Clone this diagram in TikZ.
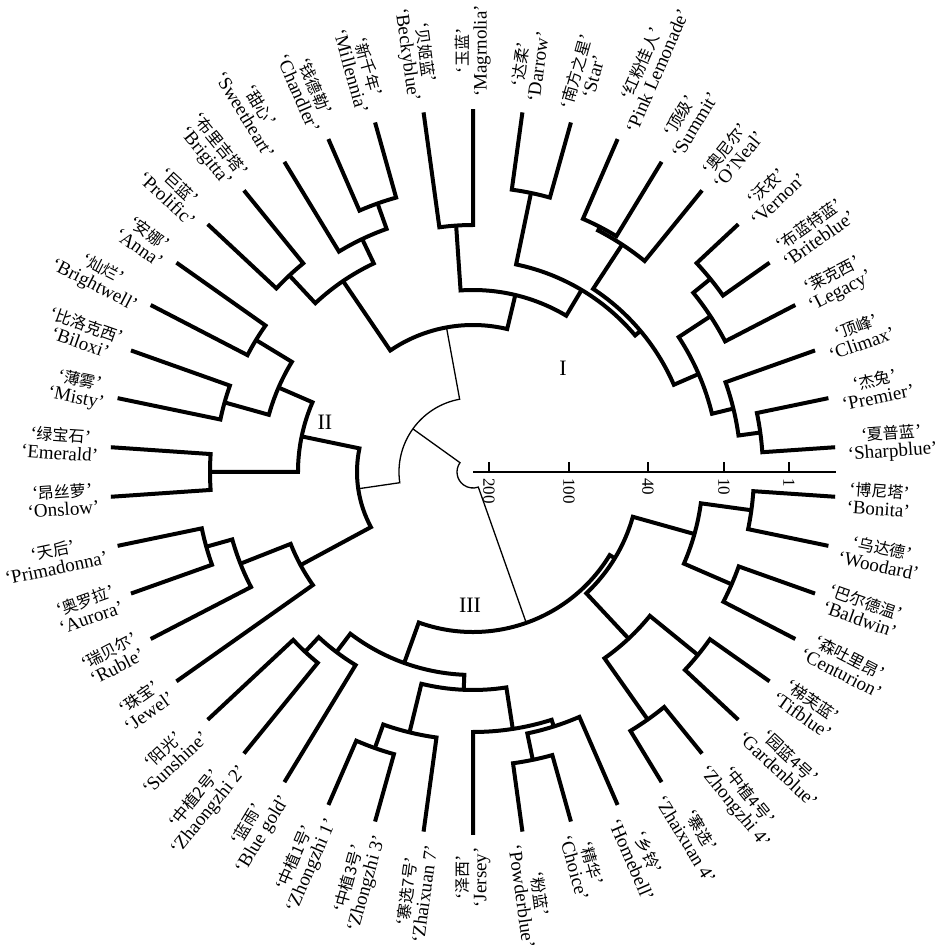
\documentclass[tikz,border=0pt]{standalone}
\usepackage{fontspec}
\setmainfont{Liberation Serif}
\newfontfamily\cjk{Noto Sans CJK SC}[Scale=0.84]
\usepackage{tikz}

\tikzset{
  branch/.style={line width=4pt},
  link/.style={line width=1.3pt},
  leaflbl/.style={font=\fontsize{19}{18}\selectfont,align=center,inner sep=0pt},
  scalelbl/.style={font=\fontsize{17}{17}\selectfont,inner sep=0pt,rotate=-90,anchor=west},
  grouplbl/.style={font=\fontsize{22}{22}\selectfont,inner sep=0pt},
  tickline/.style={line width=1.5pt}
}

% 两个子类在半径 #4 处合并
\newcommand\joinpair[5]{%
  \pgfmathsetmacro\angA{\csname ang#2\endcsname}%
  \pgfmathsetmacro\angB{\csname ang#3\endcsname}%
  \pgfmathsetmacro\angM{(\angA+\angB)/2}%
  \expandafter\xdef\csname ang#1\endcsname{\angM}%
  \coordinate (#1) at (\angM:#4);
  \draw[#5] (#2) -- (\angA:#4) arc[start angle=\angA,end angle=\angB,radius=#4pt] -- (#3);
}

\begin{document}
\begin{tikzpicture}[x=1pt,y=1pt]
\useasboundingbox (-473,-478) rectangle (476,472);
% 品种聚类图
\foreach \zh/\en [count=\i] in {夏普蓝/Sharpblue,杰兔/Premier,顶峰/Climax,莱克西/Legacy,
  布蓝特蓝/Briteblue,沃农/Vernon,奥尼尔/O’Neal,顶级/Summit,红粉佳人/Pink Lemonade,
  南方之星/Star,达柔/Darrow,玉蓝/Magrnolia,贝姬蓝/Beckyblue,新千年/Millennia,
  钱德勒/Chandler,甜心/Sweetheart,布里吉塔/Brigitta,巨蓝/Prolific,安娜/Anna,
  灿烂/Brightwell,比洛克西/Biloxi,薄雾/Misty,绿宝石/Emerald,昂丝萝/Onslow,
  天后/Primadonna,奥罗拉/Aurora,瑞贝尔/Ruble,珠宝/Jewel,阳光/Sunshine,
  中植2号/Zhaongzhi 2,蓝雨/Blue gold,中植1号/Zhongzhi 1,中植3号/Zhongzhi 3,
  寨选7号/Zhaixuan 7,泽西/Jersey,粉蓝/Powderblue,精华/Choice,乡铃/Homebell,
  寨选/Zhaixuan 4,中植4号/Zhongzhi 4,园蓝4号/Gardenblue,梯芙蓝/Tifblue,
  森吐里昂/Centurion,巴尔德温/Baldwin,乌达德/Woodard,博尼塔/Bonita}{
  \pgfmathsetmacro\a{180/46+(\i-1)*360/46}
  \expandafter\xdef\csname angc\i\endcsname{\a}
  \coordinate (c\i) at (\a:363);
  \pgfmathsetmacro\onleft{(\a>90.5)*(\a<270.5)}
  \ifdim\onleft pt>0.5pt
    \pgfmathsetmacro\rot{\a-180}
    \node[leaflbl,rotate=\rot,anchor=east] (lbl\i) at (\a:375) {‘{\cjk \zh}’\\‘\en’};
  \else
    \node[leaflbl,rotate=\a,anchor=west] (lbl\i) at (\a:375) {‘{\cjk \zh}’\\‘\en’};
  \fi
}

% I
\joinpair{m1-2}{c1}{c2}{290}{branch}
\joinpair{m1-3}{m1-2}{c3}{268}{branch}
\joinpair{m5-6}{c5}{c6}{306}{branch}
\joinpair{m4-6}{c4}{m5-6}{284}{branch}
\joinpair{m1-6}{m1-3}{m4-6}{246}{branch}
\joinpair{m8-9}{c8}{c9}{276}{branch}
\joinpair{m7-9}{c7}{m8-9}{272}{branch}
\joinpair{m1-9}{m1-6}{m7-9}{219}{branch}
\joinpair{m10-11}{c10}{c11}{285}{branch}
\joinpair{m1-11}{m1-9}{m10-11}{212}{branch}
\joinpair{m12-13}{c12}{c13}{247}{branch}
\joinpair{m1-13}{m1-11}{m12-13}{182}{branch}
\joinpair{m14-15}{c14}{c15}{285}{branch}
\joinpair{m14-16}{m14-15}{c16}{258}{branch}
\joinpair{m17-18}{c17}{c18}{269}{branch}
\joinpair{m14-18}{m14-16}{m17-18}{231}{branch}
\joinpair{m1-18}{m1-13}{m14-18}{147}{branch}
% II
\joinpair{m19-20}{c19}{c20}{254}{branch}
\joinpair{m21-22}{c21}{c22}{258}{branch}
\joinpair{m19-22}{m19-20}{m21-22}{212}{branch}
\joinpair{m23-24}{c23}{c24}{263}{branch}
\joinpair{m19-24}{m19-22}{m23-24}{175}{branch}
\joinpair{m25-26}{c25}{c26}{277}{branch}
\joinpair{m25-27}{m25-26}{c27}{250}{branch}
\joinpair{m25-28}{m25-27}{c28}{196}{branch}
\joinpair{m19-28}{m19-24}{m25-28}{116}{branch}
% III
\joinpair{m29-30}{c29}{c30}{246}{branch}
\joinpair{m29-31}{m29-30}{c31}{226}{branch}
\joinpair{m32-33}{c32}{c33}{293}{branch}
\joinpair{m32-34}{m32-33}{c34}{268}{branch}
\joinpair{m36-37}{c36}{c37}{294}{branch}
\joinpair{m36-38}{m36-37}{c38}{267}{branch}
\joinpair{m35-38}{c35}{m36-38}{260}{branch}
\joinpair{m32-38}{m32-34}{m35-38}{218}{branch}
\joinpair{m29-38}{m29-31}{m32-38}{203}{branch}
\joinpair{m39-40}{c39}{c40}{303}{branch}
\joinpair{m41-42}{c41}{c42}{290}{branch}
\joinpair{m39-42}{m39-40}{m41-42}{228}{branch}
\joinpair{m43-44}{c43}{c44}{282}{branch}
\joinpair{m45-46}{c45}{c46}{281}{branch}
\joinpair{m43-46}{m43-44}{m45-46}{230}{branch}
\joinpair{m39-46}{m39-42}{m43-46}{166}{branch}
\joinpair{m29-46}{m29-38}{m39-46}{160}{branch}
% 类间连接
\joinpair{m1-28}{m1-18}{m19-28}{74}{link}
\joinpair{root}{m1-28}{m29-46}{16}{link}

\node[grouplbl] (g1) at (90,104) {I};
\node[grouplbl] (g2) at (-148,50) {II};
\node[grouplbl] (g3) at (-3,-133) {III};

% 标尺
\coordinate (axis0) at (0,0);
\coordinate (axis1) at (363,0);
\draw[line width=2pt] (axis0) -- (axis1);
\foreach \v/\x in {200/16,100/96,40/175,10/251,1/316}{
  \coordinate (tk\v) at (\x,0);
  \coordinate (tt\v) at (\x,10);
  \draw[tickline] (tk\v) -- (tt\v);
  \node[scalelbl] (tv\v) at (\x,-6) {\v};
}
\end{tikzpicture}
\end{document}
